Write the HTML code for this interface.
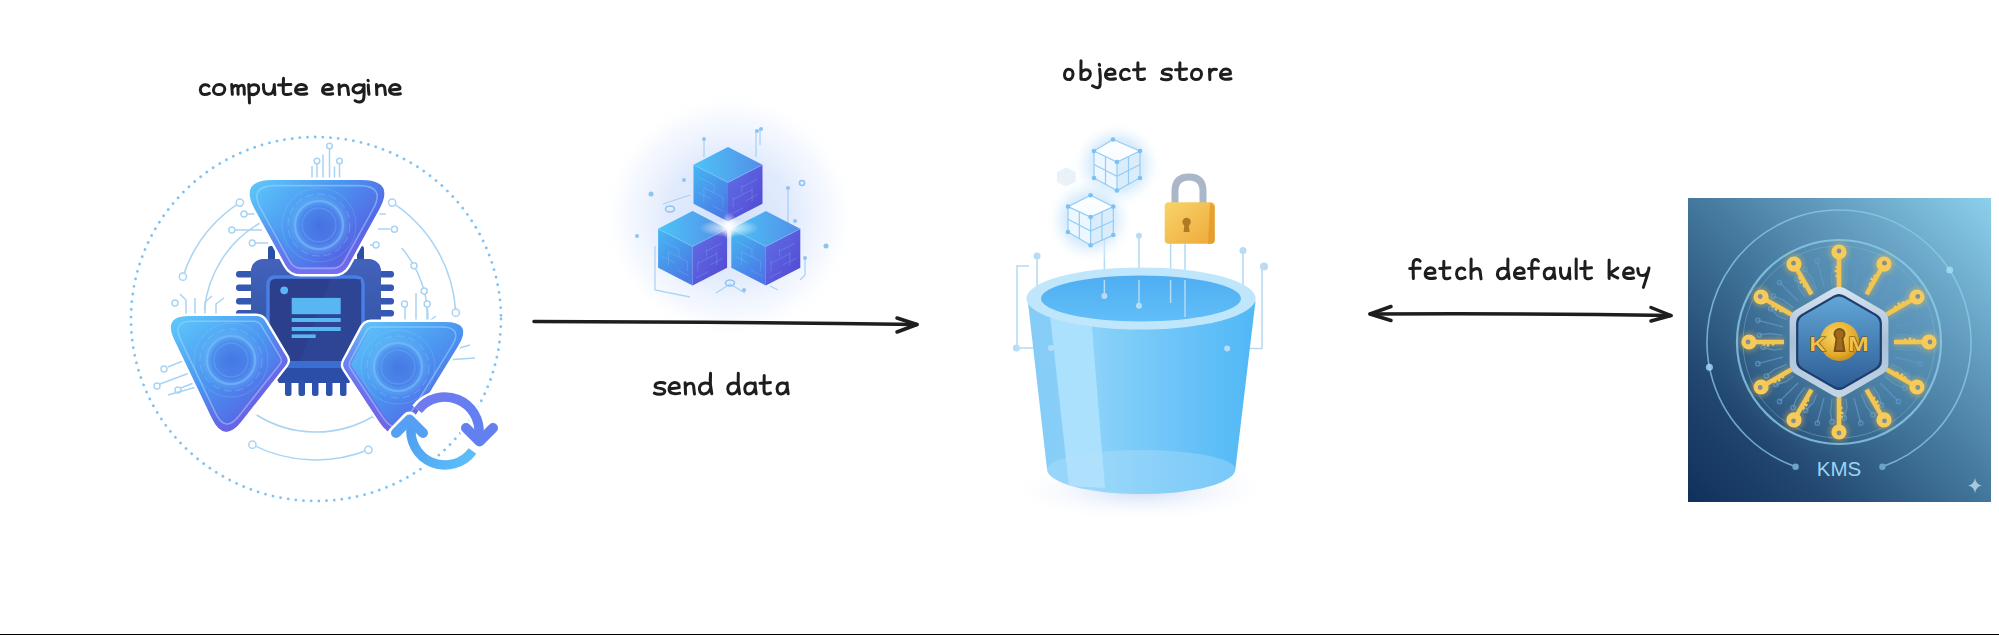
<!DOCTYPE html><html><head><meta charset="utf-8"><style>
html,body{margin:0;padding:0;background:#fff;width:1999px;height:635px;overflow:hidden}
svg{display:block}
</style></head><body>
<svg width="1999" height="635" viewBox="0 0 1999 635">
<defs>
<linearGradient id="triG" x1="0" y1="0" x2="1" y2="1">
 <stop offset="0" stop-color="#5bc0f8"/><stop offset="0.55" stop-color="#3f7ae6"/><stop offset="1" stop-color="#6a4fd8"/>
</linearGradient>
<linearGradient id="chipG" x1="0" y1="0" x2="0" y2="1"><stop offset="0" stop-color="#4262bc"/><stop offset="1" stop-color="#30509e"/></linearGradient>
<linearGradient id="syncTop" x1="0" y1="0" x2="1" y2="0"><stop offset="0" stop-color="#7a7cf2"/><stop offset="1" stop-color="#4c74ec"/></linearGradient>
<linearGradient id="syncBot" x1="0" y1="0" x2="1" y2="0"><stop offset="0" stop-color="#3fa8f2"/><stop offset="1" stop-color="#56b8f4"/></linearGradient>
<radialGradient id="glow" cx="0.5" cy="0.5" r="0.5">
 <stop offset="0" stop-color="#cfe6ff" stop-opacity="0.9"/><stop offset="0.6" stop-color="#e4f0ff" stop-opacity="0.6"/><stop offset="1" stop-color="#ffffff" stop-opacity="0"/>
</radialGradient>
<linearGradient id="cubeTop" x1="0" y1="0" x2="1" y2="1"><stop offset="0" stop-color="#56c2f6"/><stop offset="1" stop-color="#4a8ef0"/></linearGradient>
<linearGradient id="cubeL" x1="0" y1="0" x2="0" y2="1"><stop offset="0" stop-color="#3d9cf0"/><stop offset="1" stop-color="#4a6ee6"/></linearGradient>
<linearGradient id="cubeR" x1="0" y1="0" x2="0" y2="1"><stop offset="0" stop-color="#5468e4"/><stop offset="1" stop-color="#5a4fd6"/></linearGradient>
<linearGradient id="bucketBody" x1="0" y1="0" x2="1" y2="0">
 <stop offset="0" stop-color="#86cdf7"/><stop offset="0.35" stop-color="#9ad6fa"/><stop offset="0.7" stop-color="#7cc4f6"/><stop offset="1" stop-color="#62b2f0"/>
</linearGradient>
<linearGradient id="kmsBg" x1="0" y1="0" x2="1" y2="1">
 <stop offset="0" stop-color="#4a7ea6"/><stop offset="0.45" stop-color="#3f74a2"/><stop offset="1" stop-color="#2c5b8c"/>
</linearGradient>
<radialGradient id="kmsHi" cx="1" cy="0" r="0.7"><stop offset="0" stop-color="#86c8e6" stop-opacity="0.9"/><stop offset="1" stop-color="#86c8e6" stop-opacity="0"/></radialGradient>
<linearGradient id="gold" x1="0" y1="0" x2="0" y2="1"><stop offset="0" stop-color="#f7cf5a"/><stop offset="1" stop-color="#e0a52a"/></linearGradient>
</defs>

<ellipse cx="316" cy="319" rx="185" ry="182" fill="none" stroke="#80c2f4" stroke-width="2.8" stroke-dasharray="0.01 7.7" stroke-linecap="round"/>
<g fill="none" stroke="#a8d4f4" stroke-width="1.5"><path d="M239.8,202.6 A140,140 0 0 0 182.9,276.7"/><circle cx="239.8" cy="202.6" r="3.6" fill="#fff"/><circle cx="182.9" cy="276.7" r="3.6" fill="#fff"/><path d="M392.2,202.6 A140,140 0 0 1 455.8,312.7"/><circle cx="392.2" cy="202.6" r="3.6" fill="#fff"/><circle cx="455.8" cy="312.7" r="3.6" fill="#fff"/><path d="M252.4,444.7 A140,140 0 0 0 368.4,449.8"/><circle cx="252.4" cy="444.7" r="3.6" fill="#fff"/><circle cx="368.4" cy="449.8" r="3.6" fill="#fff"/><path d="M260.0,223.0 A112,112 0 0 0 204.4,310.2"/><path d="M401.8,248.0 A112,112 0 0 1 424.2,349.0"/><path d="M256.6,415.0 A112,112 0 0 0 372.0,417.0"/><circle cx="414.0" cy="265.7" r="3" fill="#fff"/><circle cx="424.2" cy="291.0" r="3" fill="#fff"/><circle cx="375.4" cy="415.0" r="3" fill="#fff"/><path d="M312,181 L312,166 M317,181 L317,164 M323,181 L323,154.5 M329.5,181 L329.5,149 M334.5,181 L334.5,166.5 M339.5,181 L339.5,164"/><circle cx="317" cy="161" r="2.8" fill="#fff"/><circle cx="329.5" cy="146" r="2.8" fill="#fff"/><circle cx="339.5" cy="161" r="2.8" fill="#fff"/><path d="M258,214 L244,214 M262,230 L232,230 M268,243 L253,243 M372,214 L386,214 M378,229 L390,229 M370,245 L376,245 M366,206 L380,200"/><circle cx="244" cy="214" r="3" fill="#fff"/><circle cx="231.8" cy="230" r="3" fill="#fff"/><circle cx="252.3" cy="243" r="3" fill="#fff"/><circle cx="394.4" cy="229.2" r="3" fill="#fff"/><circle cx="376" cy="245" r="3" fill="#fff"/><circle cx="175" cy="303" r="3" fill="#fff"/><circle cx="404.5" cy="304" r="3" fill="#fff"/><circle cx="427.2" cy="304" r="3" fill="#fff"/><circle cx="164" cy="369" r="3" fill="#fff"/><circle cx="157" cy="386" r="3" fill="#fff"/><circle cx="178" cy="390" r="3" fill="#fff"/><path d="M186,314 L186,300 L180,294 M195,314 L195,298 M205,314 L205,302 L212,296 M216,314 L216,304 L224,298 M405,322 L405,307 M416,322 L416,293 M427,322 L427,307 M168,367 L190,358 M160,384 L192,372 M181,388 L196,382 M168,395 L200,386 M428,322 L436,316 M445,352 L470,345 M446,360 L475,358"/></g>
<g>
<rect x="268" y="246" width="7" height="18" rx="2.5" fill="#2a4fa6"/>
<rect x="357" y="246" width="7" height="18" rx="2.5" fill="#2a4fa6"/>
<g fill="#3558b4">
<rect x="236" y="271" width="20" height="6.5" rx="3"/><rect x="236" y="284.5" width="20" height="6.5" rx="3"/><rect x="236" y="298" width="20" height="6.5" rx="3"/><rect x="236" y="310" width="20" height="6.5" rx="3"/>
<rect x="376" y="271" width="18" height="6.5" rx="3"/><rect x="376" y="284.5" width="18" height="6.5" rx="3"/><rect x="376" y="298" width="18" height="6.5" rx="3"/><rect x="376" y="310" width="18" height="6.5" rx="3"/>
</g>
<rect x="251" y="259" width="130" height="110" rx="12" fill="url(#chipG)"/>
<path d="M270,368 L362,368 L349,383 L279,383 Z" fill="#2c4ea6"/>
<g fill="#2d52ae"><rect x="285" y="380" width="6.5" height="16" rx="2.5"/><rect x="298.5" y="380" width="6.5" height="16" rx="2.5"/><rect x="312" y="380" width="6.5" height="16" rx="2.5"/><rect x="326" y="380" width="6.5" height="16" rx="2.5"/><rect x="340" y="380" width="6.5" height="16" rx="2.5"/></g>
<path d="M276,277 Q268,277 268,285 L268,326 L289,363 L343,363 L363,326 L363,285 Q363,277 355,277 Z" fill="#2b3f8c" stroke="#4a7ee4" stroke-width="3.5" stroke-linejoin="round"/>
<path d="M330,279 L361,279 L361,326 L343,361 L300,361 Z" fill="#31489a" opacity="0.6"/>
<rect x="268" y="362" width="96" height="6" fill="#3a6ed0"/>
<circle cx="284.2" cy="290.3" r="3.9" fill="#58b6f2"/>
<rect x="291.7" y="297.9" width="49" height="16.3" fill="#58b6f2"/>
<rect x="291.7" y="318" width="49" height="4" fill="#58b6f2"/>
<rect x="291.7" y="327" width="49" height="4" fill="#58b6f2"/>
<rect x="291.7" y="334.4" width="24" height="3.6" fill="#58b6f2"/>
</g>
<defs>
<linearGradient id="tgA" gradientUnits="userSpaceOnUse" x1="250" y1="185" x2="350" y2="285"><stop offset="0" stop-color="#5ec6fa"/><stop offset="0.45" stop-color="#4b94f0"/><stop offset="0.8" stop-color="#5468e4"/><stop offset="1" stop-color="#7356de"/></linearGradient>
<linearGradient id="tgB" gradientUnits="userSpaceOnUse" x1="175" y1="320" x2="270" y2="440"><stop offset="0" stop-color="#5ec6fa"/><stop offset="0.45" stop-color="#4b94f0"/><stop offset="0.8" stop-color="#5468e4"/><stop offset="1" stop-color="#7356de"/></linearGradient>
<linearGradient id="tgC" gradientUnits="userSpaceOnUse" x1="355" y1="325" x2="450" y2="445"><stop offset="0" stop-color="#5ec6fa"/><stop offset="0.45" stop-color="#4b94f0"/><stop offset="0.8" stop-color="#5468e4"/><stop offset="1" stop-color="#7356de"/></linearGradient>
<linearGradient id="pbtgA" gradientUnits="userSpaceOnUse" x1="317" y1="215" x2="317" y2="274"><stop offset="0" stop-color="#7668ec" stop-opacity="0"/><stop offset="0.75" stop-color="#7668ec" stop-opacity="0.6"/><stop offset="1" stop-color="#7a70f0" stop-opacity="0.95"/></linearGradient>
<linearGradient id="pbtgB" gradientUnits="userSpaceOnUse" x1="190" y1="340" x2="270" y2="420"><stop offset="0.4" stop-color="#7a5ee8" stop-opacity="0"/><stop offset="1" stop-color="#7a5ee8" stop-opacity="0.9"/></linearGradient>
<linearGradient id="pbtgC" gradientUnits="userSpaceOnUse" x1="450" y1="340" x2="370" y2="420"><stop offset="0.4" stop-color="#7a5ee8" stop-opacity="0"/><stop offset="1" stop-color="#7a5ee8" stop-opacity="0.9"/></linearGradient>
<radialGradient id="tdisc"><stop offset="0" stop-color="#3f62d8" stop-opacity="0.6"/><stop offset="0.6" stop-color="#4a78e6" stop-opacity="0.5"/><stop offset="0.8" stop-color="#6ab4fa" stop-opacity="0.35"/><stop offset="1" stop-color="#7ab8f8" stop-opacity="0"/></radialGradient>
</defs>
<path d="M255.0,209.8 Q238.5,180 272.5,180.0 L361.5,180.0 Q395.5,180 379.0,209.8 L348.3,265.2 Q343.5,274 333.5,274.0 L300.5,274.0 Q290.5,274 285.7,265.2 Z" fill="#fff" stroke="#ffffff" stroke-width="5"/><path d="M255.0,209.8 Q238.5,180 272.5,180.0 L361.5,180.0 Q395.5,180 379.0,209.8 L348.3,265.2 Q343.5,274 333.5,274.0 L300.5,274.0 Q290.5,274 285.7,265.2 Z" fill="url(#tgA)"/>
<clipPath id="cptgA"><path d="M255.0,209.8 Q238.5,180 272.5,180.0 L361.5,180.0 Q395.5,180 379.0,209.8 L348.3,265.2 Q343.5,274 333.5,274.0 L300.5,274.0 Q290.5,274 285.7,265.2 Z"/></clipPath><path d="M255.0,209.8 Q238.5,180 272.5,180.0 L361.5,180.0 Q395.5,180 379.0,209.8 L348.3,265.2 Q343.5,274 333.5,274.0 L300.5,274.0 Q290.5,274 285.7,265.2 Z" fill="none" stroke="url(#pbtgA)" stroke-width="15" clip-path="url(#cptgA)"/>
<path d="M261.1,209.4 Q247.92000000000002,185.64 275.1,185.6 L358.9,185.6 Q386.08,185.64 372.9,209.4 L344.2,261.4 Q340.32,268.36 332.3,268.4 L301.7,268.4 Q293.68,268.36 289.8,261.4 Z" fill="none" stroke="#a4dcff" stroke-opacity="0.5" stroke-width="1.6"/>
<circle cx="319" cy="225" r="31" fill="url(#tdisc)"/><circle cx="319" cy="225" r="24" fill="none" stroke="#78c0fa" stroke-opacity="0.6" stroke-width="2.2"/><circle cx="319" cy="225" r="17" fill="none" stroke="#6aa6f4" stroke-opacity="0.5" stroke-width="1.4"/><circle cx="319" cy="225" r="31" fill="none" stroke="#9ad0ff" stroke-opacity="0.35" stroke-width="1" stroke-dasharray="8 4"/><circle cx="319" cy="225" r="37" fill="none" stroke="#9ad0ff" stroke-opacity="0.22" stroke-width="1"/>
<path d="M174.2,339.5 Q163,316 189.0,316.0 L256.0,316.0 Q262,316 265.1,321.1 L286.4,356.7 Q289,361 285.9,364.9 L241.3,421.5 Q224,443.5 211.9,418.2 Z" fill="#fff" stroke="#ffffff" stroke-width="5"/><path d="M174.2,339.5 Q163,316 189.0,316.0 L256.0,316.0 Q262,316 265.1,321.1 L286.4,356.7 Q289,361 285.9,364.9 L241.3,421.5 Q224,443.5 211.9,418.2 Z" fill="url(#tgB)"/>
<clipPath id="cptgB"><path d="M174.2,339.5 Q163,316 189.0,316.0 L256.0,316.0 Q262,316 265.1,321.1 L286.4,356.7 Q289,361 285.9,364.9 L241.3,421.5 Q224,443.5 211.9,418.2 Z"/></clipPath><path d="M174.2,339.5 Q163,316 189.0,316.0 L256.0,316.0 Q262,316 265.1,321.1 L286.4,356.7 Q289,361 285.9,364.9 L241.3,421.5 Q224,443.5 211.9,418.2 Z" fill="none" stroke="url(#pbtgB)" stroke-width="15" clip-path="url(#cptgB)"/>
<path d="M180.6,339.9 Q171.57999999999998,321.175 192.4,321.2 L253.9,321.2 Q258.7,321.175 261.2,325.3 L280.4,357.3 Q282.46,360.775 280.0,363.9 L239.1,415.8 Q225.26,433.375 215.6,413.2 Z" fill="none" stroke="#a4dcff" stroke-opacity="0.5" stroke-width="1.6"/>
<circle cx="231" cy="360" r="31" fill="url(#tdisc)"/><circle cx="231" cy="360" r="24" fill="none" stroke="#78c0fa" stroke-opacity="0.6" stroke-width="2.2"/><circle cx="231" cy="360" r="17" fill="none" stroke="#6aa6f4" stroke-opacity="0.5" stroke-width="1.4"/><circle cx="231" cy="360" r="31" fill="none" stroke="#9ad0ff" stroke-opacity="0.35" stroke-width="1" stroke-dasharray="8 4"/><circle cx="231" cy="360" r="37" fill="none" stroke="#9ad0ff" stroke-opacity="0.22" stroke-width="1"/>
<path d="M344.7,369.2 Q342,365 344.4,360.6 L362.2,327.3 Q365,322 371.0,322.0 L445.0,322.0 Q473,322 458.3,345.8 L411.7,421.5 Q396,447 379.5,421.9 Z" fill="#fff" stroke="#ffffff" stroke-width="5"/><path d="M344.7,369.2 Q342,365 344.4,360.6 L362.2,327.3 Q365,322 371.0,322.0 L445.0,322.0 Q473,322 458.3,345.8 L411.7,421.5 Q396,447 379.5,421.9 Z" fill="url(#tgC)"/>
<clipPath id="cptgC"><path d="M344.7,369.2 Q342,365 344.4,360.6 L362.2,327.3 Q365,322 371.0,322.0 L445.0,322.0 Q473,322 458.3,345.8 L411.7,421.5 Q396,447 379.5,421.9 Z"/></clipPath><path d="M344.7,369.2 Q342,365 344.4,360.6 L362.2,327.3 Q365,322 371.0,322.0 L445.0,322.0 Q473,322 458.3,345.8 L411.7,421.5 Q396,447 379.5,421.9 Z" fill="none" stroke="url(#pbtgC)" stroke-width="15" clip-path="url(#cptgC)"/>
<path d="M350.4,368.2 Q348.24,364.88 350.1,361.4 L366.2,331.3 Q368.48,327.04 373.3,327.0 L441.1,327.0 Q463.52,327.04 451.8,346.1 L408.3,416.6 Q395.76,437.04 382.6,417.0 Z" fill="none" stroke="#a4dcff" stroke-opacity="0.5" stroke-width="1.6"/>
<circle cx="398" cy="367" r="31" fill="url(#tdisc)"/><circle cx="398" cy="367" r="24" fill="none" stroke="#78c0fa" stroke-opacity="0.6" stroke-width="2.2"/><circle cx="398" cy="367" r="17" fill="none" stroke="#6aa6f4" stroke-opacity="0.5" stroke-width="1.4"/><circle cx="398" cy="367" r="31" fill="none" stroke="#9ad0ff" stroke-opacity="0.35" stroke-width="1" stroke-dasharray="8 4"/><circle cx="398" cy="367" r="37" fill="none" stroke="#9ad0ff" stroke-opacity="0.22" stroke-width="1"/>
<defs><linearGradient id="sg1" gradientUnits="userSpaceOnUse" x1="410" y1="400" x2="490" y2="440"><stop offset="0" stop-color="#7378f0"/><stop offset="1" stop-color="#5e82f2"/></linearGradient>
<linearGradient id="sg2" gradientUnits="userSpaceOnUse" x1="400" y1="420" x2="480" y2="470"><stop offset="0" stop-color="#4f98f0"/><stop offset="1" stop-color="#5cc6fa"/></linearGradient></defs>
<g fill="none" stroke-linejoin="round">
<path d="M418.2,410.1 A34,34 0 0 1 478.8,434.6" stroke="#fff" stroke-width="15"/>
<path d="M465,427 L479.5,442 L494,427" stroke="#fff" stroke-width="15" stroke-linecap="round"/>
<path d="M472.5,451.0 A34,34 0 0 1 411.5,425.1" stroke="#fff" stroke-width="15"/>
<path d="M395,434 L409.5,419 L423,434" stroke="#fff" stroke-width="15" stroke-linecap="round"/>
<path d="M418.2,410.1 A34,34 0 0 1 478.8,434.6" stroke="url(#sg1)" stroke-width="9.5"/>
<path d="M466,428 L479.5,441.5 L493,428" stroke="#6280f0" stroke-width="10" stroke-linecap="round"/>
<path d="M472.5,451.0 A34,34 0 0 1 411.5,425.1" stroke="url(#sg2)" stroke-width="9.5"/>
<path d="M396,433 L409.5,419.5 L423,433" stroke="#55a0f2" stroke-width="10" stroke-linecap="round"/>
</g>
<defs>
<radialGradient id="cglow" cx="0.5" cy="0.5" r="0.5"><stop offset="0" stop-color="#d0e0fb" stop-opacity="1"/><stop offset="0.5" stop-color="#dde8fc" stop-opacity="0.85"/><stop offset="0.8" stop-color="#ecf2fe" stop-opacity="0.5"/><stop offset="1" stop-color="#ffffff" stop-opacity="0"/></radialGradient>
<radialGradient id="cspark" cx="0.5" cy="0.5" r="0.5"><stop offset="0" stop-color="#ffffff" stop-opacity="1"/><stop offset="1" stop-color="#ffffff" stop-opacity="0"/></radialGradient>
</defs>
<ellipse cx="729" cy="216" rx="128" ry="124" fill="url(#cglow)"/>
<g fill="none" stroke="#9ccaf2" stroke-width="1.3" stroke-opacity="0.8"><path d="M704,157 L704,138 M756,157 L756,131 M760,145 L760,128 M788,223 L788,187 M655,246 L655,290 L690,297 M805,258 L805,275 L800,280 M663,204 L690,195 M778,290 L770,286 M716,293 L730,284 L745,293"/></g>
<g fill="#8ec4f2"><circle cx="704" cy="139" r="2"/><circle cx="757" cy="131" r="2"/><circle cx="761" cy="129" r="2"/><circle cx="788" cy="188" r="2"/><circle cx="651" cy="194" r="2.5"/><circle cx="637" cy="236" r="2"/><circle cx="826" cy="246" r="2.5"/><circle cx="805" cy="258" r="2"/><circle cx="744" cy="290" r="2"/><circle cx="684" cy="180" r="2"/><circle cx="795" cy="221" r="2"/></g>
<g fill="none" stroke="#8ec4f2" stroke-width="1.6"><ellipse cx="670" cy="209" rx="4.5" ry="3"/><ellipse cx="730" cy="283" rx="4.5" ry="3"/><circle cx="802" cy="183" r="2.5"/></g>
<defs>
<linearGradient id="cT" x1="0" y1="0.5" x2="1" y2="0.5"><stop offset="0" stop-color="#4cc4f6"/><stop offset="1" stop-color="#548ee8"/></linearGradient>
<linearGradient id="cL" x1="0" y1="0" x2="0.6" y2="1"><stop offset="0" stop-color="#46b8f2"/><stop offset="1" stop-color="#4a7ae6"/></linearGradient>
<linearGradient id="cR" x1="0" y1="0" x2="1" y2="1"><stop offset="0" stop-color="#6070e6"/><stop offset="1" stop-color="#5246d2"/></linearGradient>
</defs>
<path d="M728,147 L762.5,164.75 L728,182.5 L693.5,164.75 Z" fill="url(#cT)"/><path d="M693.5,164.75 L728,182.5 L728,221.5 L693.5,203.75 Z" fill="url(#cL)"/><path d="M728,182.5 L762.5,164.75 L762.5,203.75 L728,221.5 Z" fill="url(#cR)"/><g stroke="#9ad8ff" stroke-opacity="0.22" stroke-width="1" fill="none"><path d="M698.7,177.2 L714.2,185.2 M741.8,187.1 L757.3,179.1 M703.9,187.6 L722.8,197.4 M733.2,199.3 L752.1,189.6 M697.6,192.2 L710.8,199.0 M745.2,200.9 L758.4,194.2 M712.5,205.7 L724.5,211.9 M731.5,213.9 L743.5,207.7 M714.2,185.2 L714.2,193.0 M741.8,185.2 L741.8,193.0 M703.9,187.6 L703.9,201.3 M752.1,187.6 L752.1,201.3 M722.8,197.4 L722.8,207.1 M733.2,197.4 L733.2,207.1"/></g><path d="M693.5,164.75 L728,182.5 L762.5,164.75" fill="none" stroke="#8fdcff" stroke-opacity="0.35" stroke-width="1"/><path d="M692.6,211 L727.1,228.75 L692.6,246.5 L658.1,228.75 Z" fill="url(#cT)"/><path d="M658.1,228.75 L692.6,246.5 L692.6,285.5 L658.1,267.75 Z" fill="url(#cL)"/><path d="M692.6,246.5 L727.1,228.75 L727.1,267.75 L692.6,285.5 Z" fill="url(#cR)"/><g stroke="#9ad8ff" stroke-opacity="0.22" stroke-width="1" fill="none"><path d="M663.3,241.2 L678.8,249.2 M706.4,251.1 L721.9,243.1 M668.5,251.6 L687.4,261.4 M697.8,263.3 L716.8,253.6 M662.2,256.2 L675.4,263.0 M709.9,264.9 L723.0,258.2 M677.1,269.7 L689.1,275.9 M696.1,277.9 L708.1,271.7 M678.8,249.2 L678.8,256.9 M706.4,249.2 L706.4,256.9 M668.5,251.6 L668.5,265.3 M716.8,251.6 L716.8,265.3 M687.4,261.4 L687.4,271.1 M697.8,261.4 L697.8,271.1"/></g><path d="M658.1,228.75 L692.6,246.5 L727.1,228.75" fill="none" stroke="#8fdcff" stroke-opacity="0.35" stroke-width="1"/><path d="M765.8,211 L800.3,228.75 L765.8,246.5 L731.3,228.75 Z" fill="url(#cT)"/><path d="M731.3,228.75 L765.8,246.5 L765.8,285.5 L731.3,267.75 Z" fill="url(#cL)"/><path d="M765.8,246.5 L800.3,228.75 L800.3,267.75 L765.8,285.5 Z" fill="url(#cR)"/><g stroke="#9ad8ff" stroke-opacity="0.22" stroke-width="1" fill="none"><path d="M736.5,241.2 L752.0,249.2 M779.6,251.1 L795.1,243.1 M741.6,251.6 L760.6,261.4 M771.0,263.3 L789.9,253.6 M735.4,256.2 L748.5,263.0 M783.0,264.9 L796.2,258.2 M750.3,269.7 L762.3,275.9 M769.2,277.9 L781.3,271.7 M752.0,249.2 L752.0,256.9 M779.6,249.2 L779.6,256.9 M741.6,251.6 L741.6,265.3 M789.9,251.6 L789.9,265.3 M760.6,261.4 L760.6,271.1 M771.0,261.4 L771.0,271.1"/></g><path d="M731.3,228.75 L765.8,246.5 L800.3,228.75" fill="none" stroke="#8fdcff" stroke-opacity="0.35" stroke-width="1"/>
<ellipse cx="729" cy="228" rx="30" ry="9" fill="url(#cspark)" opacity="0.9"/><ellipse cx="729" cy="226" rx="8" ry="14" fill="url(#cspark)" opacity="0.9"/>
<g fill="none" stroke="#1e1e1e" stroke-width="3.5" stroke-linecap="round" stroke-linejoin="round">
<path d="M534,321.5 Q720,322 917,324.5"/><path d="M897,318 L917,324.5 L897,332"/>
<path d="M1370,314 Q1520,313 1671,315.5"/><path d="M1391,306.5 L1370,314 L1391,320.5"/><path d="M1651,307.5 L1671,315.5 L1651,321"/>
</g>
<defs>
<linearGradient id="bk" gradientUnits="userSpaceOnUse" x1="1027" y1="0" x2="1256" y2="0">
 <stop offset="0" stop-color="#84ccf7"/><stop offset="0.3" stop-color="#8ad2f9"/><stop offset="0.6" stop-color="#70c6f8"/><stop offset="1" stop-color="#50b8f6"/>
</linearGradient>
<radialGradient id="bshadow" cx="0.5" cy="0.5" r="0.5"><stop offset="0" stop-color="#c6d6f4" stop-opacity="0.85"/><stop offset="1" stop-color="#ffffff" stop-opacity="0"/></radialGradient>
<linearGradient id="bin" x1="0" y1="0" x2="0" y2="1"><stop offset="0" stop-color="#4eaef2"/><stop offset="1" stop-color="#62bef8"/></linearGradient>
<radialGradient id="wglow" cx="0.5" cy="0.5" r="0.5"><stop offset="0" stop-color="#b4dcfa" stop-opacity="1"/><stop offset="0.6" stop-color="#cfe8fc" stop-opacity="0.7"/><stop offset="1" stop-color="#ffffff" stop-opacity="0"/></radialGradient>
<linearGradient id="lockG" x1="0" y1="0" x2="1" y2="1"><stop offset="0" stop-color="#f8d46a"/><stop offset="1" stop-color="#eea93a"/></linearGradient>
</defs>
<ellipse cx="1141" cy="490" rx="135" ry="32" fill="url(#bshadow)"/>
<g fill="none" stroke="#b4daf4" stroke-width="1.5"><path d="M1029,266 L1017,266 L1017,348 L1051,348 M1227,348.6 L1262,348.6 L1262,266 M1037,256 L1037,292 M1243,251 L1243,290 M1104.4,214 L1104.4,296 M1139,236 L1139,306 M1170.6,243 L1170.6,303 M1185,243 L1185,317"/></g>
<path d="M1027.8,301 L1047,469 A94,25 0 0 0 1235.4,469 L1255.5,301 Z" fill="url(#bk)"/>
<path d="M1050,315 L1091,315 L1105,488 L1069,486 Z" fill="#b2e4fd" opacity="0.85"/>
<path d="M1047,469 A94,25 0 0 0 1235.4,469 A94,19 0 0 0 1047,469 Z" fill="#b6e2fc" opacity="0.35"/>
<ellipse cx="1141" cy="298.5" rx="114.6" ry="31" fill="#c0e6fc"/>
<ellipse cx="1141" cy="298.5" rx="100" ry="23" fill="url(#bin)"/>
<g fill="#b8dcf6"><circle cx="1016.4" cy="348" r="3.5"/><circle cx="1051" cy="348" r="3"/><circle cx="1227.2" cy="348.6" r="3"/><circle cx="1264" cy="266.5" r="4"/><circle cx="1037" cy="256" r="3.5"/><circle cx="1243" cy="250.4" r="3.5"/><circle cx="1104.4" cy="296" r="3"/><circle cx="1139" cy="305.8" r="3"/><circle cx="1139" cy="235.7" r="3"/></g>
<g fill="none" stroke="#b4daf4" stroke-width="1.5"><path d="M1104.4,296 L1104.4,280 M1139,306 L1139,280 M1170.6,303 L1170.6,280 M1185,317 L1185,280"/></g>
<ellipse cx="1117" cy="165" rx="46" ry="44" fill="url(#wglow)"/><ellipse cx="1090" cy="220" rx="44" ry="44" fill="url(#wglow)"/>
<path d="M1113,139.5 L1140,151 L1117,162 L1094,151 Z" fill="#ffffff" fill-opacity="0.9"/><path d="M1094,151 L1117,162 L1117,190.5 L1094,178 Z" fill="#f0f8ff" fill-opacity="0.9"/><path d="M1117,162 L1140,151 L1140,178 L1117,190.5 Z" fill="#dcedfb" fill-opacity="0.9"/><g fill="none" stroke="#94ccf6" stroke-width="1.2"><path d="M1113,139.5 L1140,151 L1140,178 L1117,190.5 L1094,178 L1094,151 Z M1094,151 L1117,162 L1140,151 M1117,162 L1117,190.5 M1105.5,156.5 L1105.5,184.25 M1128.5,156.5 L1128.5,184.25 M1094.0,164.5 L1117.0,176.25 L1140.0,164.5"/></g><g fill="#7cc0f4"><circle cx="1113" cy="139.5" r="2.3"/><circle cx="1094" cy="151" r="2.3"/><circle cx="1140" cy="151" r="2.3"/><circle cx="1117" cy="162" r="2.3"/><circle cx="1094" cy="178" r="2.3"/><circle cx="1117" cy="190.5" r="2.3"/><circle cx="1140" cy="178" r="2.3"/></g>
<path d="M1090.6,195.2 L1113.3,206.6 L1090.6,217 L1068,206.6 Z" fill="#ffffff" fill-opacity="0.9"/><path d="M1068,206.6 L1090.6,217 L1090.6,245.3 L1068,232 Z" fill="#f0f8ff" fill-opacity="0.9"/><path d="M1090.6,217 L1113.3,206.6 L1113.3,235 L1090.6,245.3 Z" fill="#dcedfb" fill-opacity="0.9"/><g fill="none" stroke="#94ccf6" stroke-width="1.2"><path d="M1090.6,195.2 L1113.3,206.6 L1113.3,235 L1090.6,245.3 L1068,232 L1068,206.6 Z M1068,206.6 L1090.6,217 L1113.3,206.6 M1090.6,217 L1090.6,245.3 M1079.3,211.8 L1079.3,238.65 M1101.9499999999998,211.8 L1101.9499999999998,240.15 M1068.0,219.3 L1090.6,231.15 L1113.3,220.8"/></g><g fill="#7cc0f4"><circle cx="1090.6" cy="195.2" r="2.3"/><circle cx="1068" cy="206.6" r="2.3"/><circle cx="1113.3" cy="206.6" r="2.3"/><circle cx="1090.6" cy="217" r="2.3"/><circle cx="1068" cy="232" r="2.3"/><circle cx="1090.6" cy="245.3" r="2.3"/><circle cx="1113.3" cy="235" r="2.3"/></g>
<path d="M1057,172 L1066,167.5 L1075.6,172 L1075.6,182 L1066,186.2 L1057,182 Z" fill="#e4eef8" opacity="0.8"/>
<g>
<path d="M1175,206 L1175,191 Q1175,177 1189,177 Q1203,177 1203,191 L1203,206" fill="none" stroke="#a9b7c8" stroke-width="7"/>
<rect x="1164.7" y="202.2" width="50" height="41.5" rx="4" fill="url(#lockG)"/>
<path d="M1210,203 L1214.7,206 L1214.7,240 Q1214.7,243.7 1211,243.7 L1208,243.7 Z" fill="#e59a2c" opacity="0.8"/>
<circle cx="1186.6" cy="222" r="4.2" fill="#b07a22"/><path d="M1184.6,223 L1188.6,223 L1189.6,232 L1183.6,232 Z" fill="#b07a22"/>
</g>
<defs>
<linearGradient id="kbg" gradientUnits="userSpaceOnUse" x1="1688" y1="502" x2="1991" y2="198">
 <stop offset="0" stop-color="#10305c"/><stop offset="0.22" stop-color="#21466f"/><stop offset="0.5" stop-color="#43779c"/><stop offset="0.73" stop-color="#649ec0"/><stop offset="1" stop-color="#8cd0ec"/>
</linearGradient>
<radialGradient id="kglowc" cx="0.5" cy="0.5" r="0.5"><stop offset="0" stop-color="#6aa8d4" stop-opacity="0.35"/><stop offset="1" stop-color="#6aa8d4" stop-opacity="0"/></radialGradient>
<linearGradient id="hexFrame" x1="0" y1="0" x2="0" y2="1"><stop offset="0" stop-color="#d6e4f0"/><stop offset="0.5" stop-color="#a8c0d8"/><stop offset="1" stop-color="#c4d6e6"/></linearGradient>
<linearGradient id="hexFill" x1="0" y1="0" x2="0" y2="1"><stop offset="0" stop-color="#62a6d8"/><stop offset="1" stop-color="#2d5c94"/></linearGradient>
<radialGradient id="coin" cx="0.4" cy="0.35" r="0.7"><stop offset="0" stop-color="#f9d766"/><stop offset="0.7" stop-color="#e4ac2e"/><stop offset="1" stop-color="#c48a1e"/></radialGradient>
<filter id="kblur" x="-50%" y="-50%" width="200%" height="200%"><feGaussianBlur stdDeviation="2.2"/></filter>
</defs>
<rect x="1688" y="198" width="303" height="304" fill="url(#kbg)"/>
<circle cx="1839" cy="342" r="115" fill="url(#kglowc)"/>
<path d="M1882.4,466.7 A132,132 0 1 0 1795.6,466.7" fill="none" stroke="#8ccbe8" stroke-opacity="0.75" stroke-width="1.6"/>
<circle cx="1882.4" cy="466.7" r="3.2" fill="#6aa4c8"/>
<circle cx="1795.6" cy="466.7" r="3.2" fill="#6aa4c8"/>
<circle cx="1949.7" cy="270.1" r="3.5" fill="#a8dcf4" opacity="0.8"/>
<circle cx="1709.4" cy="367.2" r="3.5" fill="#a8dcf4" opacity="0.8"/>
<circle cx="1839" cy="342" r="102" fill="none" stroke="#8ccbe8" stroke-opacity="0.8" stroke-width="2.2"/>
<circle cx="1839" cy="342" r="96" fill="none" stroke="#7ab6da" stroke-opacity="0.45" stroke-width="1"/>
<g fill="none" stroke="#5f9ac6" stroke-opacity="0.75" stroke-width="1.3"><path d="M1845.9,285.4 L1847.5,272.5 L1846.0,262.3 M1854.0,286.0 L1858.2,270.5 L1860.7,260.9 M1861.3,289.5 L1864.8,281.2 L1872.3,273.7 M1873.3,296.5 L1881.1,286.1 L1884.9,276.5 M1880.0,301.0 L1891.3,289.7 L1898.4,282.6 M1884.5,307.7 L1891.7,302.3 L1902.0,299.5 M1891.5,319.7 L1903.4,314.6 L1911.5,308.2 M1895.0,327.0 L1910.5,322.8 L1920.1,320.3 M1895.6,335.1 L1904.5,334.0 L1914.8,336.7 M1895.6,348.9 L1908.5,350.5 L1918.7,349.0 M1895.0,357.0 L1910.5,361.2 L1920.1,363.7 M1891.5,364.3 L1899.8,367.8 L1907.3,375.3 M1884.5,376.3 L1894.9,384.1 L1904.5,387.9 M1880.0,383.0 L1891.3,394.3 L1898.4,401.4 M1873.3,387.5 L1878.7,394.7 L1881.5,405.0 M1861.3,394.5 L1866.4,406.4 L1872.8,414.5 M1854.0,398.0 L1858.2,413.5 L1860.7,423.1 M1845.9,398.6 L1847.0,407.5 L1844.3,417.8 M1832.1,398.6 L1830.5,411.5 L1832.0,421.7 M1824.0,398.0 L1819.8,413.5 L1817.3,423.1 M1816.7,394.5 L1813.2,402.8 L1805.7,410.3 M1804.7,387.5 L1796.9,397.9 L1793.1,407.5 M1798.0,383.0 L1786.7,394.3 L1779.6,401.4 M1793.5,376.3 L1786.3,381.7 L1776.0,384.5 M1786.5,364.3 L1774.6,369.4 L1766.5,375.8 M1783.0,357.0 L1767.5,361.2 L1757.9,363.7 M1782.4,348.9 L1773.5,350.0 L1763.2,347.3 M1782.4,335.1 L1769.5,333.5 L1759.3,335.0 M1783.0,327.0 L1767.5,322.8 L1757.9,320.3 M1786.5,319.7 L1778.2,316.2 L1770.7,308.7 M1793.5,307.7 L1783.1,299.9 L1773.5,296.1 M1798.0,301.0 L1786.7,289.7 L1779.6,282.6 M1804.7,296.5 L1799.3,289.3 L1796.5,279.0 M1816.7,289.5 L1811.6,277.6 L1805.2,269.5 M1824.0,286.0 L1819.8,270.5 L1817.3,260.9 M1832.1,285.4 L1831.0,276.5 L1833.7,266.2"/><circle cx="1846.0" cy="262.3" r="2.2"/><circle cx="1860.7" cy="260.9" r="2.2"/><circle cx="1872.3" cy="273.7" r="2.2"/><circle cx="1884.9" cy="276.5" r="2.2"/><circle cx="1898.4" cy="282.6" r="2.2"/><circle cx="1902.0" cy="299.5" r="2.2"/><circle cx="1911.5" cy="308.2" r="2.2"/><circle cx="1920.1" cy="320.3" r="2.2"/><circle cx="1914.8" cy="336.7" r="2.2"/><circle cx="1918.7" cy="349.0" r="2.2"/><circle cx="1920.1" cy="363.7" r="2.2"/><circle cx="1907.3" cy="375.3" r="2.2"/><circle cx="1904.5" cy="387.9" r="2.2"/><circle cx="1898.4" cy="401.4" r="2.2"/><circle cx="1881.5" cy="405.0" r="2.2"/><circle cx="1872.8" cy="414.5" r="2.2"/><circle cx="1860.7" cy="423.1" r="2.2"/><circle cx="1844.3" cy="417.8" r="2.2"/><circle cx="1832.0" cy="421.7" r="2.2"/><circle cx="1817.3" cy="423.1" r="2.2"/><circle cx="1805.7" cy="410.3" r="2.2"/><circle cx="1793.1" cy="407.5" r="2.2"/><circle cx="1779.6" cy="401.4" r="2.2"/><circle cx="1776.0" cy="384.5" r="2.2"/><circle cx="1766.5" cy="375.8" r="2.2"/><circle cx="1757.9" cy="363.7" r="2.2"/><circle cx="1763.2" cy="347.3" r="2.2"/><circle cx="1759.3" cy="335.0" r="2.2"/><circle cx="1757.9" cy="320.3" r="2.2"/><circle cx="1770.7" cy="308.7" r="2.2"/><circle cx="1773.5" cy="296.1" r="2.2"/><circle cx="1779.6" cy="282.6" r="2.2"/><circle cx="1796.5" cy="279.0" r="2.2"/><circle cx="1805.2" cy="269.5" r="2.2"/><circle cx="1817.3" cy="260.9" r="2.2"/><circle cx="1833.7" cy="266.2" r="2.2"/></g>
<g fill="#f7c850" stroke="#f7c850" opacity="0.3" filter="url(#kblur)"><circle cx="1839.0" cy="252.0" r="10"/><path d="M1839.0,258.0 L1839.0,287.0" stroke-width="9"/><circle cx="1884.0" cy="264.1" r="10"/><path d="M1881.0,269.3 L1866.5,294.4" stroke-width="9"/><circle cx="1916.9" cy="297.0" r="10"/><path d="M1911.7,300.0 L1886.6,314.5" stroke-width="9"/><circle cx="1929.0" cy="342.0" r="10"/><path d="M1923.0,342.0 L1894.0,342.0" stroke-width="9"/><circle cx="1916.9" cy="387.0" r="10"/><path d="M1911.7,384.0 L1886.6,369.5" stroke-width="9"/><circle cx="1884.0" cy="419.9" r="10"/><path d="M1881.0,414.7 L1866.5,389.6" stroke-width="9"/><circle cx="1839.0" cy="432.0" r="10"/><path d="M1839.0,426.0 L1839.0,397.0" stroke-width="9"/><circle cx="1794.0" cy="419.9" r="10"/><path d="M1797.0,414.7 L1811.5,389.6" stroke-width="9"/><circle cx="1761.1" cy="387.0" r="10"/><path d="M1766.3,384.0 L1791.4,369.5" stroke-width="9"/><circle cx="1749.0" cy="342.0" r="10"/><path d="M1755.0,342.0 L1784.0,342.0" stroke-width="9"/><circle cx="1761.1" cy="297.0" r="10"/><path d="M1766.3,300.0 L1791.4,314.5" stroke-width="9"/><circle cx="1794.0" cy="264.1" r="10"/><path d="M1797.0,269.3 L1811.5,294.4" stroke-width="9"/></g>
<g fill="none" stroke-linecap="butt"><path d="M1839.0,258.0 L1839.0,287.0" stroke="#f3c552" stroke-width="4.6"/><path d="M1839.0,267.0 L1835.5,267.0 M1839.0,271.0 L1834.5,271.0 M1839.0,276.0 L1835.5,276.0" stroke="#f3c552" stroke-width="2.6"/><circle cx="1839.0" cy="252.0" r="7.6" fill="#f6cb5a"/><circle cx="1839.0" cy="251.0" r="2.4" fill="#7f8f96"/><path d="M1881.0,269.3 L1866.5,294.4" stroke="#f3c552" stroke-width="4.6"/><path d="M1876.5,277.0 L1873.5,275.3 M1874.5,280.5 L1870.6,278.3 M1872.0,284.8 L1869.0,283.1" stroke="#f3c552" stroke-width="2.6"/><circle cx="1884.0" cy="264.1" r="7.6" fill="#f6cb5a"/><circle cx="1884.5" cy="263.2" r="2.4" fill="#7f8f96"/><path d="M1911.7,300.0 L1886.6,314.5" stroke="#f3c552" stroke-width="4.6"/><path d="M1904.0,304.5 L1902.2,301.5 M1900.5,306.5 L1898.2,302.6 M1896.2,309.0 L1894.4,306.0" stroke="#f3c552" stroke-width="2.6"/><circle cx="1916.9" cy="297.0" r="7.6" fill="#f6cb5a"/><circle cx="1917.8" cy="296.5" r="2.4" fill="#7f8f96"/><path d="M1923.0,342.0 L1894.0,342.0" stroke="#f3c552" stroke-width="4.6"/><path d="M1914.0,342.0 L1914.0,338.5 M1910.0,342.0 L1910.0,337.5 M1905.0,342.0 L1905.0,338.5" stroke="#f3c552" stroke-width="2.6"/><circle cx="1929.0" cy="342.0" r="7.6" fill="#f6cb5a"/><circle cx="1930.0" cy="342.0" r="2.4" fill="#7f8f96"/><path d="M1911.7,384.0 L1886.6,369.5" stroke="#f3c552" stroke-width="4.6"/><path d="M1904.0,379.5 L1905.7,376.5 M1900.5,377.5 L1902.7,373.6 M1896.2,375.0 L1897.9,372.0" stroke="#f3c552" stroke-width="2.6"/><circle cx="1916.9" cy="387.0" r="7.6" fill="#f6cb5a"/><circle cx="1917.8" cy="387.5" r="2.4" fill="#7f8f96"/><path d="M1881.0,414.7 L1866.5,389.6" stroke="#f3c552" stroke-width="4.6"/><path d="M1876.5,407.0 L1879.5,405.2 M1874.5,403.5 L1878.4,401.2 M1872.0,399.2 L1875.0,397.4" stroke="#f3c552" stroke-width="2.6"/><circle cx="1884.0" cy="419.9" r="7.6" fill="#f6cb5a"/><circle cx="1884.5" cy="420.8" r="2.4" fill="#7f8f96"/><path d="M1839.0,426.0 L1839.0,397.0" stroke="#f3c552" stroke-width="4.6"/><path d="M1839.0,417.0 L1842.5,417.0 M1839.0,413.0 L1843.5,413.0 M1839.0,408.0 L1842.5,408.0" stroke="#f3c552" stroke-width="2.6"/><circle cx="1839.0" cy="432.0" r="7.6" fill="#f6cb5a"/><circle cx="1839.0" cy="433.0" r="2.4" fill="#7f8f96"/><path d="M1797.0,414.7 L1811.5,389.6" stroke="#f3c552" stroke-width="4.6"/><path d="M1801.5,407.0 L1804.5,408.7 M1803.5,403.5 L1807.4,405.7 M1806.0,399.2 L1809.0,400.9" stroke="#f3c552" stroke-width="2.6"/><circle cx="1794.0" cy="419.9" r="7.6" fill="#f6cb5a"/><circle cx="1793.5" cy="420.8" r="2.4" fill="#7f8f96"/><path d="M1766.3,384.0 L1791.4,369.5" stroke="#f3c552" stroke-width="4.6"/><path d="M1774.0,379.5 L1775.8,382.5 M1777.5,377.5 L1779.8,381.4 M1781.8,375.0 L1783.6,378.0" stroke="#f3c552" stroke-width="2.6"/><circle cx="1761.1" cy="387.0" r="7.6" fill="#f6cb5a"/><circle cx="1760.2" cy="387.5" r="2.4" fill="#7f8f96"/><path d="M1755.0,342.0 L1784.0,342.0" stroke="#f3c552" stroke-width="4.6"/><path d="M1764.0,342.0 L1764.0,345.5 M1768.0,342.0 L1768.0,346.5 M1773.0,342.0 L1773.0,345.5" stroke="#f3c552" stroke-width="2.6"/><circle cx="1749.0" cy="342.0" r="7.6" fill="#f6cb5a"/><circle cx="1748.0" cy="342.0" r="2.4" fill="#7f8f96"/><path d="M1766.3,300.0 L1791.4,314.5" stroke="#f3c552" stroke-width="4.6"/><path d="M1774.0,304.5 L1772.3,307.5 M1777.5,306.5 L1775.3,310.4 M1781.8,309.0 L1780.1,312.0" stroke="#f3c552" stroke-width="2.6"/><circle cx="1761.1" cy="297.0" r="7.6" fill="#f6cb5a"/><circle cx="1760.2" cy="296.5" r="2.4" fill="#7f8f96"/><path d="M1797.0,269.3 L1811.5,294.4" stroke="#f3c552" stroke-width="4.6"/><path d="M1801.5,277.0 L1798.5,278.8 M1803.5,280.5 L1799.6,282.8 M1806.0,284.8 L1803.0,286.6" stroke="#f3c552" stroke-width="2.6"/><circle cx="1794.0" cy="264.1" r="7.6" fill="#f6cb5a"/><circle cx="1793.5" cy="263.2" r="2.4" fill="#7f8f96"/></g>
<path d="M1832.9,288.5 Q1839.0,285.0 1845.1,288.5 L1882.3,310.0 Q1888.4,313.5 1888.4,320.5 L1888.4,363.5 Q1888.4,370.5 1882.3,374.0 L1845.1,395.5 Q1839.0,399.0 1832.9,395.5 L1795.7,374.0 Q1789.6,370.5 1789.6,363.5 L1789.6,320.5 Q1789.6,313.5 1795.7,310.0 Z" fill="url(#hexFrame)"/>
<path d="M1833.8,295.5 Q1839.0,292.5 1844.2,295.5 L1876.7,314.2 Q1881.9,317.2 1881.9,323.2 L1881.9,360.8 Q1881.9,366.8 1876.7,369.8 L1844.2,388.5 Q1839.0,391.5 1833.8,388.5 L1801.3,369.8 Q1796.1,366.8 1796.1,360.8 L1796.1,323.2 Q1796.1,317.2 1801.3,314.2 Z" fill="#1d3d6c"/>
<path d="M1833.8,298.0 Q1839.0,295.0 1844.2,298.0 L1874.5,315.5 Q1879.7,318.5 1879.7,324.5 L1879.7,359.5 Q1879.7,365.5 1874.5,368.5 L1844.2,386.0 Q1839.0,389.0 1833.8,386.0 L1803.5,368.5 Q1798.3,365.5 1798.3,359.5 L1798.3,324.5 Q1798.3,318.5 1803.5,315.5 Z" fill="url(#hexFill)"/>
<circle cx="1839.5" cy="341.4" r="19.5" fill="url(#coin)"/>
<circle cx="1839.5" cy="334" r="6" fill="#7d5214"/><path d="M1836,336 L1843,336 L1845.5,352 L1833.5,352 Z" fill="#7d5214"/><circle cx="1839.5" cy="334" r="4" fill="#a06a1c"/><path d="M1837.5,336 L1841.5,336 L1843,350 L1836,350 Z" fill="#a06a1c"/>
<text transform="translate(1809.5,350.5) scale(1.08,1)" font-family="'Liberation Sans', sans-serif" font-weight="bold" font-size="21" fill="#f2c04c" stroke="#6a4a10" stroke-width="1" paint-order="stroke">K</text>
<text transform="translate(1848,350.5) scale(1.18,1)" font-family="'Liberation Sans', sans-serif" font-weight="bold" font-size="21" fill="#f2c04c" stroke="#6a4a10" stroke-width="1" paint-order="stroke">M</text>
<text x="1839" y="475.5" font-family="'Liberation Sans', sans-serif" font-size="20.5" fill="#9ad4f0" text-anchor="middle">KMS</text>
<path d="M1975,478 Q1976,484.5 1982,485.5 Q1976,486.5 1975,493 Q1974,486.5 1968,485.5 Q1974,484.5 1975,478 Z" fill="#a8c8dc"/>
<g fill="none" stroke="#1e1e1e" stroke-width="3.0" stroke-linecap="round" stroke-linejoin="round"><path d="M208.92,86.05 C207.48,84.11 202.68,83.82 200.76,87.51 C199.32,90.91 201.24,94.69 204.60,94.59 C206.52,94.49 207.96,94.11 209.40,93.33"/><path d="M219.15,84.60 C214.63,84.60 213.50,88.48 213.50,90.42 C213.50,93.33 216.32,94.59 219.15,94.59 C223.11,94.59 224.80,91.39 224.80,88.97 C224.80,86.05 221.98,84.60 219.15,84.60 Z"/><path d="M231.70,84.60 C232.07,88.48 232.07,91.39 232.32,94.30 M232.20,88.48 C233.56,85.08 237.28,84.11 237.90,87.51 C238.15,90.42 237.90,92.36 238.15,94.30 M237.90,88.00 C239.14,85.08 243.48,84.11 244.10,87.51 C244.35,90.42 244.10,92.36 244.35,94.30"/><path d="M248.73,84.60 C249.06,90.42 249.27,97.21 249.48,103.03 M249.06,87.51 C250.34,84.60 254.62,84.11 257.29,85.57 C259.44,87.02 258.90,91.39 256.76,93.33 C254.62,94.78 251.41,94.78 249.27,93.33"/><path d="M263.50,84.60 C263.16,89.45 263.50,93.81 268.06,94.30 C272.05,94.59 274.33,91.39 274.33,84.60 M274.33,84.60 C274.33,88.48 274.67,92.36 274.90,94.59"/><path d="M283.46,78.30 C283.46,84.60 282.96,89.45 283.46,92.84 C284.08,94.98 288.42,94.78 290.90,93.81 M278.50,85.08 C282.22,84.79 287.18,84.60 290.90,84.41"/><path d="M296.63,89.94 C300.02,89.64 303.41,89.45 306.24,88.97 C306.80,86.05 304.54,84.31 301.15,84.41 C297.19,84.60 295.50,88.00 295.50,90.42 C295.73,93.81 300.02,95.08 306.80,93.81"/><path d="M323.52,89.94 C326.58,89.64 329.64,89.45 332.19,88.97 C332.70,86.05 330.66,84.31 327.60,84.41 C324.03,84.60 322.50,88.00 322.50,90.42 C322.70,93.81 326.58,95.08 332.70,93.81"/><path d="M339.00,84.60 C339.29,88.48 339.29,91.39 339.48,94.59 M339.38,88.00 C340.92,85.08 346.68,83.63 347.64,87.51 C348.12,90.42 348.12,92.36 348.60,94.59"/><path d="M363.41,86.05 C361.62,84.11 355.08,84.11 353.30,88.00 C352.10,91.39 355.08,93.33 358.65,92.84 C361.03,92.36 362.81,90.42 363.41,88.48 M364.00,84.60 C364.00,90.42 364.60,96.24 363.41,99.63 C362.22,102.55 357.46,102.55 355.08,100.60"/><path d="M368.25,85.08 C368.25,88.48 368.55,91.39 369.00,94.30 M367.95,80.23 L368.25,80.72"/><path d="M376.40,84.60 C376.67,88.48 376.67,91.39 376.85,94.59 M376.76,88.00 C378.22,85.08 383.68,83.63 384.59,87.51 C385.05,90.42 385.05,92.36 385.50,94.59"/><path d="M390.59,89.94 C393.86,89.64 397.13,89.45 399.85,88.97 C400.40,86.05 398.22,84.31 394.95,84.41 C391.13,84.60 389.50,88.00 389.50,90.42 C389.72,93.81 393.86,95.08 400.40,93.81"/></g>
<g fill="none" stroke="#1e1e1e" stroke-width="3.0" stroke-linecap="round" stroke-linejoin="round"><path d="M664.90,383.25 C662.78,381.82 656.42,382.15 655.36,384.90 C654.30,387.65 657.48,387.98 660.66,388.42 C663.84,388.86 665.43,390.40 664.37,392.60 C663.31,394.58 657.48,394.80 654.30,393.15"/><path d="M670.16,388.75 C673.34,388.42 676.52,388.20 679.17,387.65 C679.70,384.35 677.58,382.37 674.40,382.48 C670.69,382.70 669.10,386.55 669.10,389.30 C669.31,393.15 673.34,394.58 679.70,393.15"/><path d="M685.10,382.70 C685.38,387.10 685.38,390.40 685.57,394.03 M685.48,386.55 C686.98,383.25 692.62,381.60 693.56,386.00 C694.03,389.30 694.03,391.50 694.50,394.03"/><path d="M710.53,384.90 C707.99,382.15 701.64,382.15 699.74,386.55 C698.47,390.40 700.37,394.25 704.18,394.03 C707.99,393.70 709.89,390.40 710.53,388.20 M710.53,373.35 C709.89,380.50 710.53,388.20 711.80,393.70"/><path d="M738.30,384.90 C735.90,382.15 729.90,382.15 728.10,386.55 C726.90,390.40 728.70,394.25 732.30,394.03 C735.90,393.70 737.70,390.40 738.30,388.20 M738.30,373.35 C737.70,380.50 738.30,388.20 739.50,393.70"/><path d="M755.03,384.90 C752.69,382.15 746.84,382.15 745.09,386.55 C743.91,390.40 745.67,394.25 749.18,394.03 C752.69,393.70 754.45,390.40 755.03,388.20 M755.03,382.70 C755.03,387.10 755.38,390.40 756.20,393.70"/><path d="M764.20,375.55 C764.20,382.70 763.78,388.20 764.20,392.05 C764.73,394.47 768.40,394.25 770.50,393.15 M760.00,383.25 C763.15,382.92 767.35,382.70 770.50,382.48"/><path d="M787.06,384.90 C784.78,382.15 779.08,382.15 777.37,386.55 C776.23,390.40 777.94,394.25 781.36,394.03 C784.78,393.70 786.49,390.40 787.06,388.20 M787.06,382.70 C787.06,387.10 787.40,390.40 788.20,393.70"/></g>
<g fill="none" stroke="#1e1e1e" stroke-width="3.0" stroke-linecap="round" stroke-linejoin="round"><path d="M1068.75,69.30 C1065.35,69.30 1064.50,73.30 1064.50,75.30 C1064.50,78.30 1066.62,79.60 1068.75,79.60 C1071.72,79.60 1073.00,76.30 1073.00,73.80 C1073.00,70.80 1070.88,69.30 1068.75,69.30 Z"/><path d="M1081.00,60.80 C1081.00,67.30 1080.80,74.30 1081.00,79.30 M1081.00,73.30 C1082.00,69.80 1087.50,68.30 1089.70,71.30 C1091.30,73.80 1090.00,78.30 1086.50,79.30 C1084.50,79.80 1082.50,79.50 1081.00,78.30"/><path d="M1099.66,69.30 C1100.50,75.30 1100.50,81.30 1100.08,84.80 C1099.66,88.30 1096.71,88.60 1092.50,85.80 M1099.24,64.30 L1099.66,65.30"/><path d="M1106.50,74.80 C1109.50,74.50 1112.50,74.30 1115.00,73.80 C1115.50,70.80 1113.50,69.00 1110.50,69.10 C1107.00,69.30 1105.50,72.80 1105.50,75.30 C1105.70,78.80 1109.50,80.10 1115.50,78.80"/><path d="M1129.03,70.80 C1127.60,68.80 1122.85,68.50 1120.95,72.30 C1119.53,75.80 1121.42,79.70 1124.75,79.60 C1126.65,79.50 1128.08,79.10 1129.50,78.30"/><path d="M1137.90,62.80 C1137.90,69.30 1137.46,74.30 1137.90,77.80 C1138.45,80.00 1142.30,79.80 1144.50,78.80 M1133.50,69.80 C1136.80,69.50 1141.20,69.30 1144.50,69.10"/><path d="M1171.50,69.80 C1169.50,68.50 1163.50,68.80 1162.50,71.30 C1161.50,73.80 1164.50,74.10 1167.50,74.50 C1170.50,74.90 1172.00,76.30 1171.00,78.30 C1170.00,80.10 1164.50,80.30 1161.50,78.80"/><path d="M1179.90,62.80 C1179.90,69.30 1179.46,74.30 1179.90,77.80 C1180.45,80.00 1184.30,79.80 1186.50,78.80 M1175.50,69.80 C1178.80,69.50 1183.20,69.30 1186.50,69.10"/><path d="M1196.50,69.30 C1192.50,69.30 1191.50,73.30 1191.50,75.30 C1191.50,78.30 1194.00,79.60 1196.50,79.60 C1200.00,79.60 1201.50,76.30 1201.50,73.80 C1201.50,70.80 1199.00,69.30 1196.50,69.30 Z"/><path d="M1209.50,69.30 C1209.71,73.30 1209.71,76.30 1209.85,79.60 M1209.78,73.30 C1210.90,69.80 1213.70,68.80 1216.50,69.50"/><path d="M1221.55,74.80 C1224.70,74.50 1227.85,74.30 1230.47,73.80 C1231.00,70.80 1228.90,69.00 1225.75,69.10 C1222.08,69.30 1220.50,72.80 1220.50,75.30 C1220.71,78.80 1224.70,80.10 1231.00,78.80"/></g>
<g fill="none" stroke="#1e1e1e" stroke-width="3.0" stroke-linecap="round" stroke-linejoin="round"><path d="M1420.10,261.18 C1418.54,258.76 1413.86,258.76 1413.34,262.75 C1412.82,266.95 1413.34,274.30 1413.34,278.50 M1409.70,268.52 C1412.82,268.52 1416.98,268.31 1420.10,268.21"/><path d="M1426.22,273.77 C1429.28,273.46 1432.34,273.25 1434.89,272.73 C1435.40,269.57 1433.36,267.69 1430.30,267.79 C1426.73,268.00 1425.20,271.68 1425.20,274.30 C1425.40,277.98 1429.28,279.34 1435.40,277.98"/><path d="M1443.84,261.18 C1443.84,268.00 1443.44,273.25 1443.84,276.93 C1444.35,279.24 1447.88,279.02 1449.90,277.98 M1439.80,268.52 C1442.83,268.21 1446.87,268.00 1449.90,267.79"/><path d="M1464.65,269.57 C1463.30,267.48 1458.80,267.16 1457.00,271.15 C1455.65,274.82 1457.45,278.92 1460.60,278.81 C1462.40,278.71 1463.75,278.29 1465.10,277.45"/><path d="M1471.12,259.07 C1471.12,265.90 1470.91,273.25 1471.12,278.50 M1471.12,272.20 C1472.70,268.52 1479.00,266.95 1480.05,271.15 C1480.57,274.30 1480.57,276.40 1481.10,278.81"/><path d="M1507.91,270.10 C1505.53,267.48 1499.58,267.48 1497.80,271.68 C1496.61,275.35 1498.39,279.02 1501.96,278.81 C1505.53,278.50 1507.31,275.35 1507.91,273.25 M1507.91,259.07 C1507.31,265.90 1507.91,273.25 1509.10,278.50"/><path d="M1515.50,273.77 C1518.50,273.46 1521.50,273.25 1524.00,272.73 C1524.50,269.57 1522.50,267.69 1519.50,267.79 C1516.00,268.00 1514.50,271.68 1514.50,274.30 C1514.70,277.98 1518.50,279.34 1524.50,277.98"/><path d="M1538.40,261.18 C1536.91,258.76 1532.46,258.76 1531.97,262.75 C1531.47,266.95 1531.97,274.30 1531.97,278.50 M1528.50,268.52 C1531.47,268.52 1535.43,268.31 1538.40,268.21"/><path d="M1553.89,270.10 C1551.67,267.48 1546.12,267.48 1544.46,271.68 C1543.35,275.35 1545.01,279.02 1548.34,278.81 C1551.67,278.50 1553.34,275.35 1553.89,273.25 M1553.89,268.00 C1553.89,272.20 1554.22,275.35 1555.00,278.50"/><path d="M1560.50,268.00 C1560.22,273.25 1560.50,277.98 1564.26,278.50 C1567.55,278.81 1569.43,275.35 1569.43,268.00 M1569.43,268.00 C1569.43,272.20 1569.71,276.40 1569.90,278.81"/><path d="M1576.20,259.07 C1576.14,265.90 1576.16,273.25 1576.24,278.50"/><path d="M1585.02,261.18 C1585.02,268.00 1584.59,273.25 1585.02,276.93 C1585.56,279.24 1589.34,279.02 1591.50,277.98 M1580.70,268.52 C1583.94,268.21 1588.26,268.00 1591.50,267.79"/><path d="M1609.15,260.12 C1609.15,266.95 1608.97,273.25 1609.15,278.50 M1617.80,268.00 C1615.07,270.10 1611.43,272.20 1609.61,273.25 C1612.34,275.35 1615.07,276.93 1617.80,277.98"/><path d="M1624.61,273.77 C1627.64,273.46 1630.67,273.25 1633.19,272.73 C1633.70,269.57 1631.68,267.69 1628.65,267.79 C1625.12,268.00 1623.60,271.68 1623.60,274.30 C1623.80,277.98 1627.64,279.34 1633.70,277.98"/><path d="M1637.80,268.52 C1637.80,273.25 1638.92,275.88 1642.84,275.56 C1646.76,275.35 1648.44,272.20 1649.00,268.00 C1647.88,274.30 1645.08,281.65 1643.40,287.43"/></g>
<rect x="0" y="634" width="1999" height="1" fill="#000"/>
</svg></body></html>
